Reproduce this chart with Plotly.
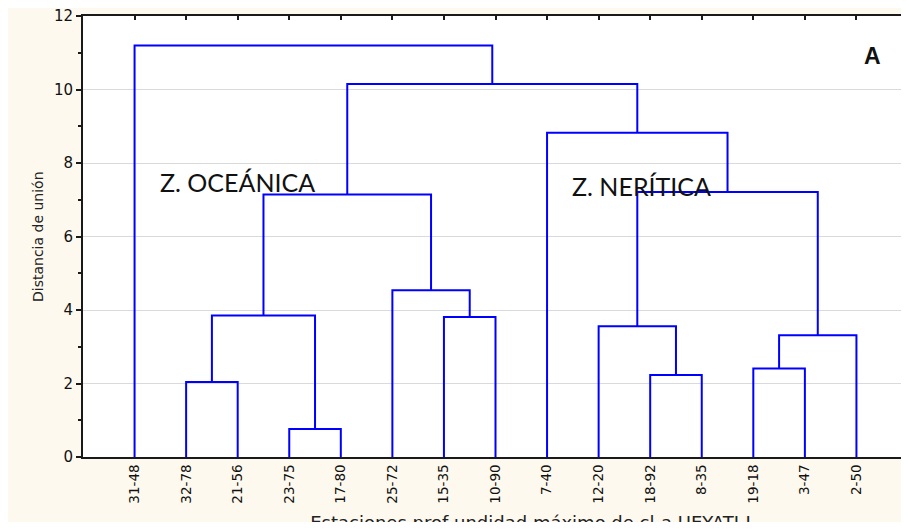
import plotly.graph_objects as go

# ---- data -------------------------------------------------------------
leaves = ["31-48", "32-78", "21-56", "23-75", "17-80", "25-72", "15-35", "10-90",
          "7-40", "12-20", "18-92", "8-35", "19-18", "3-47", "2-50"]

# merges (cluster ids c0..c13 in order of creation)
merge_left = ["23-75", "32-78", "18-92", "19-18", "c3", "12-20", "15-35",
              "c1", "25-72", "c7", "c5", "7-40", "c9", "31-48"]
merge_right = ["17-80", "21-56", "8-35", "3-47", "2-50", "c2", "10-90",
               "c0", "c6", "c8", "c4", "c10", "c11", "c12"]
merge_height = [0.76, 2.04, 2.23, 2.41, 3.31, 3.56, 3.81,
                3.85, 4.54, 7.14, 7.21, 8.82, 10.15, 11.2]

y_ticks = [0, 2, 4, 6, 8, 10, 12]
y_title = "Distancia de unión"
x_title = "Estaciones prof undidad máximo de cl-a UEYATI-I"
label_oce = "Z. OCEÁNICA"
label_ner = "Z. NERÍTICA"
panel = "A"

# ---- dendrogram geometry from the merge table ---------------------------
pos = {name: i + 1 for i, name in enumerate(leaves)}
hgt = {name: 0.0 for name in leaves}
xs, ys = [], []
for k, (a, b, h) in enumerate(zip(merge_left, merge_right, merge_height)):
    xa, ya, xb, yb = pos[a], hgt[a], pos[b], hgt[b]
    xs += [xa, xa, xb, xb, None]
    ys += [ya, h, h, yb, None]
    cid = "c%d" % k
    pos[cid] = (xa + xb) / 2
    hgt[cid] = h

# page body has an 8px margin: lay out in figure pixels = window pixels - 8
OFF = 8
CREAM = "#fef9ee"
W, H = 909 - OFF, 529 - OFF
ML, MR = 83 - OFF, 1
MT = 16 - OFF
cream_bottom = 522 - OFF
MB = H - cream_bottom
plot_h = H - MT - MB
plot_w = W - ML - MR
main_bottom = 457 - OFF
main_dom0 = (cream_bottom - main_bottom) / plot_h


def px_y(py):  # window pixel -> paper y
    return (cream_bottom - (py - OFF)) / plot_h


def px_x(px):  # window pixel -> paper x
    return ((px - OFF) - ML) / plot_w


fig = go.Figure()
fig.add_trace(go.Scatter(x=xs, y=ys, mode="lines",
                         line=dict(color="#0000ff", width=2),
                         hoverinfo="skip", showlegend=False))
# dummy trace for mirrored tick axes
fig.add_trace(go.Scatter(x=[], y=[], xaxis="x2", yaxis="y2", showlegend=False))
# clipped axis title (cut at the bottom like the original)
fig.add_trace(go.Scatter(x=[8.68], y=[-0.06], xaxis="x3", yaxis="y3", mode="text",
                         text=[x_title], textposition="middle center",
                         textfont=dict(family="DejaVu Sans", size=18, color="#222"),
                         cliponaxis=True, hoverinfo="skip", showlegend=False))

xfont = dict(family="DejaVu Sans", size=13.5, color="#111")
yfont = dict(family="DejaVu Sans", size=15, color="#111")
fig.update_layout(
    template="none",
    width=W, height=H,
    margin=dict(l=ML, r=MR, t=MT, b=MB, pad=0, autoexpand=False),
    paper_bgcolor=CREAM, plot_bgcolor=CREAM,
    showlegend=False,
    xaxis=dict(range=[0, 16], domain=[0, 1], anchor="y", automargin=False,
               tickmode="array", tickvals=[pos[n] for n in leaves], ticktext=leaves,
               tickangle=-90, ticks="", tickfont=xfont, ticklabeloverflow="allow",
               showline=True, linecolor="#1a1a1a", linewidth=2, mirror=True,
               showgrid=False, zeroline=False, fixedrange=True),
    xaxis2=dict(range=[0, 16], overlaying="x", side="top", anchor="y", automargin=False,
                tickmode="array", tickvals=[pos[n] for n in leaves],
                ticks="inside", ticklen=4, tickcolor="#1a1a1a", tickwidth=1.5,
                showticklabels=False, showgrid=False, zeroline=False,
                showline=False),
    xaxis3=dict(range=[0, 16], domain=[0, 1], anchor="y3", visible=False, automargin=False),
    yaxis=dict(range=[0, 12], domain=[main_dom0, 1], anchor="x", automargin=False,
               tickmode="array", tickvals=y_ticks, ticklabeloverflow="allow",
               ticks="outside", ticklen=5, tickcolor="#1a1a1a", tickwidth=1.5,
               minor=dict(dtick=1, ticks="outside", ticklen=3, tickcolor="#1a1a1a",
                          showgrid=False),
               tickfont=yfont,
               showline=True, linecolor="#1a1a1a", linewidth=2, mirror=True,
               showgrid=True, gridcolor="#dadada", gridwidth=1,
               zeroline=False, fixedrange=True),
    yaxis2=dict(range=[0, 12], overlaying="y", side="right", anchor="x", automargin=False,
                dtick=1, ticks="inside", ticklen=4, tickcolor="#1a1a1a", tickwidth=1.5,
                showticklabels=False, showgrid=False, zeroline=False, showline=False),
    yaxis3=dict(range=[0, 1], domain=[0, 40 / plot_h], anchor="x3", visible=False,
                automargin=False),
)

fig.add_shape(type="rect", xref="x domain", yref="y domain", x0=0, x1=1, y0=0, y1=1,
              fillcolor="white", line_width=0, layer="below")
# thin white strip below the cream page
fig.add_shape(type="rect", xref="paper", yref="paper", x0=-0.2, x1=1.2,
              y0=-0.1, y1=0, fillcolor="white", line_width=0, layer="below")

fig.add_annotation(x=3.0, y=7.48, xref="x", yref="y", text=label_oce, showarrow=False,
                   font=dict(family="Lato", size=25, color="#111"))
fig.add_annotation(x=10.83, y=7.37, xref="x", yref="y", text=label_ner, showarrow=False,
                   font=dict(family="Lato", size=25, color="#111"))
fig.add_annotation(x=15.31, y=10.91, xref="x", yref="y", text="<b>%s</b>" % panel,
                   showarrow=False, font=dict(family="Arial", size=23, color="#111"))
fig.add_annotation(x=px_x(28), y=px_y(237),
                   xref="paper", yref="paper", text=y_title, textangle=-90,
                   showarrow=False, font=dict(family="DejaVu Sans", size=14, color="#222"))

fig.write_html("out.html")
